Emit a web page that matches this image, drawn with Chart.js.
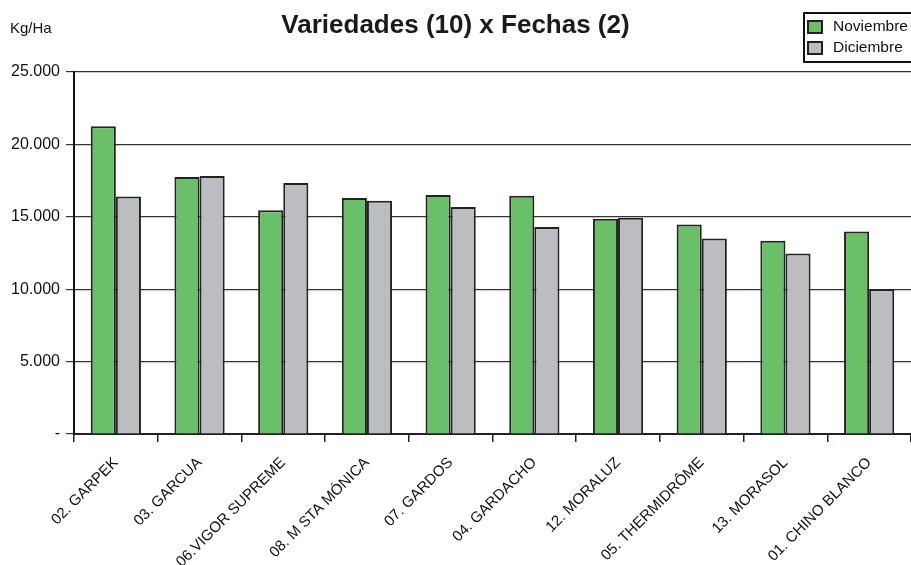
<!DOCTYPE html>
<html>
<head>
<meta charset="utf-8">
<script src="https://cdn.jsdelivr.net/npm/chart.js@4"></script>
<style>
  html, body { margin: 0; padding: 0; background: #fff; }
  #wrap { width: 911px; height: 565px; position: relative; }
</style>
</head>
<body>
<div id="wrap"><canvas id="c" width="911" height="565"></canvas></div>
<script>
const categories = ['02. GARPEK', '03. GARCUA', '06.VIGOR SUPREME', '08. M STA MÓNICA', '07. GARDOS',
  '04. GARDACHO', '12. MORALUZ', '05. THERMIDRÔME', '13. MORASOL', '01. CHINO BLANCO'];
const noviembre = [21250, 17750, 15450, 16300, 16500, 16450, 14870, 14460, 13350, 13980];
const diciembre = [16400, 17820, 17330, 16100, 15680, 14300, 14940, 13500, 12460, 10000];
const yTickLabels = ['-', '5.000', '10.000', '15.000', '20.000', '25.000'];
const seriesNames = ['Noviembre', 'Diciembre'];
const titleText = 'Variedades (10) x Fechas (2)';
const unitText = 'Kg/Ha';

const FONT = "'Liberation Sans', Arial, sans-serif";
const GREEN = '#6abf69';
const GRAY = '#bcbdc0';

const overlay = {
  id: 'overlay',
  afterDraw(chart) {
    const ctx = chart.ctx;
    ctx.save();
    // unit label
    ctx.fillStyle = '#111';
    ctx.font = '15px ' + FONT;
    ctx.textAlign = 'left';
    ctx.textBaseline = 'middle';
    ctx.fillText(unitText, 10, 29);
    // legend box
    ctx.lineWidth = 2;
    ctx.strokeStyle = '#111';
    ctx.strokeRect(804, 13, 112, 49);
    chart.data.datasets.forEach((ds, i) => {
      const y = 21 + i * 21;
      ctx.fillStyle = ds.backgroundColor;
      ctx.fillRect(808, y, 14, 12);
      ctx.lineWidth = 2;
      ctx.strokeStyle = '#222';
      ctx.strokeRect(808, y, 14, 12);
      ctx.fillStyle = '#111';
      ctx.font = '15.5px ' + FONT;
      ctx.textAlign = 'left';
      ctx.textBaseline = 'middle';
      ctx.fillText(ds.label, 833, y + 6);
    });
    ctx.restore();
  }
};

new Chart(document.getElementById('c'), {
  type: 'bar',
  data: {
    labels: categories,
    datasets: [
      { label: seriesNames[0], data: noviembre, backgroundColor: GREEN, borderColor: '#222', borderWidth: 2 },
      { label: seriesNames[1], data: diciembre, backgroundColor: GRAY, borderColor: '#222', borderWidth: 2 }
    ]
  },
  options: {
    responsive: false,
    animation: false,
    devicePixelRatio: 1,
    layout: { padding: { left: 0, right: 0, top: 0, bottom: 0 } },
    datasets: { bar: { categoryPercentage: 0.6, barPercentage: 1.0 } },
    plugins: {
      legend: { display: false },
      tooltip: { enabled: false },
      title: {
        display: true,
        text: titleText,
        color: '#1a1a1a',
        font: { family: FONT, size: 26, weight: 'bold', lineHeight: 1.2 },
        padding: { top: 10, bottom: 30.8 }
      }
    },
    scales: {
      x: {
        offset: true,
        grid: { display: true, drawOnChartArea: false, drawTicks: true, tickLength: 8, color: '#222', lineWidth: 1.5, offset: true },
        border: { display: true, color: '#222', width: 2 },
        ticks: {
          color: '#111',
          font: { family: FONT, size: 15 },
          minRotation: 45,
          maxRotation: 45,
          autoSkip: false,
          padding: 12
        },
        afterFit(scale) { scale.height = 131; }
      },
      y: {
        min: 0,
        max: 25000,
        grid: { color: '#333', lineWidth: 1.2, drawTicks: true, tickLength: 8, tickColor: '#333' },
        border: { display: true, color: '#111', width: 2 },
        ticks: {
          stepSize: 5000,
          color: '#111',
          font: { family: FONT, size: 16 },
          padding: 6,
          callback: (v, i) => yTickLabels[i]
        },
        afterFit(scale) { scale.width = 74; }
      }
    }
  },
  plugins: [overlay]
});
</script>
</body>
</html>
